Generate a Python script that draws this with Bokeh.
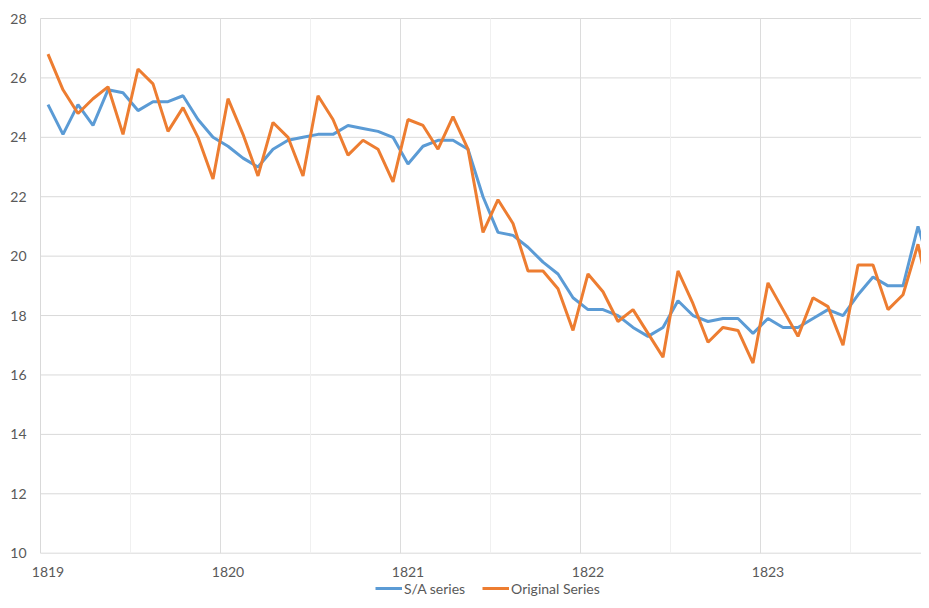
from bokeh.plotting import figure
from bokeh.models import Legend, LegendItem, Range1d, ColumnDataSource
from bokeh.core.properties import value
from bokeh.embed import file_html
from bokeh.resources import INLINE

years = ["1819", "1820", "1821", "1822", "1823"]
sa_series = [25.1, 24.1, 25.1, 24.4, 25.6, 25.5, 24.9, 25.2, 25.2, 25.4, 24.6, 24.0,
             23.7, 23.3, 23.0, 23.6, 23.9, 24.0, 24.1, 24.1, 24.4, 24.3, 24.2, 24.0,
             23.1, 23.7, 23.9, 23.9, 23.6, 22.0, 20.8, 20.7, 20.3, 19.8, 19.4, 18.6,
             18.2, 18.2, 18.0, 17.6, 17.3, 17.6, 18.5, 18.0, 17.8, 17.9, 17.9, 17.4,
             17.9, 17.6, 17.6, 17.9, 18.2, 18.0, 18.7, 19.3, 19.0, 19.0, 21.0, 19.3]
original_series = [26.8, 25.6, 24.8, 25.3, 25.7, 24.1, 26.3, 25.8, 24.2, 25.0, 24.0, 22.6,
                   25.3, 24.1, 22.7, 24.5, 24.0, 22.7, 25.4, 24.6, 23.4, 23.9, 23.6, 22.5,
                   24.6, 24.4, 23.6, 24.7, 23.6, 20.8, 21.9, 21.1, 19.5, 19.5, 18.9, 17.5,
                   19.4, 18.8, 17.8, 18.2, 17.4, 16.6, 19.5, 18.4, 17.1, 17.6, 17.5, 16.4,
                   19.1, 18.2, 17.3, 18.6, 18.3, 17.0, 19.7, 19.7, 18.2, 18.7, 20.4, 18.1]
y_ticks = [10, 12, 14, 16, 18, 20, 22, 24, 26, 28]

months_per_year = 12
x = list(range(len(sa_series)))
y_min, y_max = 10, 28

# layout geometry (pixels)
W, H = 921, 600
plot_left, plot_top, plot_bottom = 40.0, 18.0, 552.7
month_px = 15.0
u_per_px = (y_max - y_min) / (plot_bottom - plot_top)
x_lo = -0.5 - plot_left / month_px
x_hi = -0.5 + (W - plot_left) / month_px
y_lo = y_min - (H - plot_bottom) * u_per_px
y_hi = y_max + plot_top * u_per_px
x_start = -0.5   # left edge of the first category

p = figure(width=W, height=H, output_backend="svg", toolbar_location=None,
           x_axis_location=None, y_axis_location=None,
           x_range=Range1d(x_lo, x_hi), y_range=Range1d(y_lo, y_hi),
           min_border_left=0, min_border_top=0, min_border_right=0,
           min_border_bottom=0)
p.outline_line_color = None
p.background_fill_color = "white"
p.xgrid.visible = False
p.ygrid.visible = False

# horizontal gridlines
p.segment(x0=[x_start] * len(y_ticks), x1=[x_hi + 1] * len(y_ticks),
          y0=y_ticks, y1=y_ticks, line_color="#d9d9d9", line_width=1)

# vertical gridlines: half-year (minor), year (major), and left axis line
half_bounds = [i * months_per_year + 5.5 for i in range(len(years))]
year_bounds = [i * months_per_year - 0.5 for i in range(1, len(years) + 1)]
p.segment(x0=half_bounds, x1=half_bounds, y0=[y_min] * len(half_bounds),
          y1=[y_max] * len(half_bounds), line_color="#f0f0f0", line_width=1)
p.segment(x0=year_bounds, x1=year_bounds, y0=[y_min] * len(year_bounds),
          y1=[y_max] * len(year_bounds), line_color="#dcdcdc", line_width=1)
p.segment(x0=[x_start], x1=[x_start], y0=[y_min], y1=[y_max],
          line_color="#d9d9d9", line_width=1)

# y tick labels
ylab_src = ColumnDataSource(dict(x=[x_start] * len(y_ticks), y=y_ticks,
                                 text=[str(t) for t in y_ticks]))
p.text(x="x", y="y", text="text", source=ylab_src, text_align="right",
       text_baseline="middle", x_offset=-14, text_font=value("Lato"),
       text_font_size="14px", text_color="#595959")

# x tick labels (category labels at the first month of each year)
tick_pos = [i * months_per_year for i in range(len(years))]
xlab_src = ColumnDataSource(dict(x=tick_pos, y=[y_min] * len(years), text=years))
p.text(x="x", y="y", text="text", source=xlab_src, text_align="center",
       text_baseline="middle", y_offset=19, text_font=value("Lato"),
       text_font_size="14px", text_color="#595959")

r1 = p.line(x, sa_series, line_color="#5B9BD5", line_width=3)
r2 = p.line(x, original_series, line_color="#ED7D31", line_width=3)

legend = Legend(items=[LegendItem(label="S/A series", renderers=[r1]),
                       LegendItem(label="Original Series", renderers=[r2])],
                orientation="horizontal", location=(375, 2),
                label_text_font="Lato", label_text_font_size="14px",
                label_text_color="#595959", glyph_width=27, label_standoff=2,
                spacing=17, padding=0, margin=0, border_line_color=None,
                background_fill_alpha=0)
p.add_layout(legend, "center")

open("out.html", "w").write(file_html(p, INLINE))
